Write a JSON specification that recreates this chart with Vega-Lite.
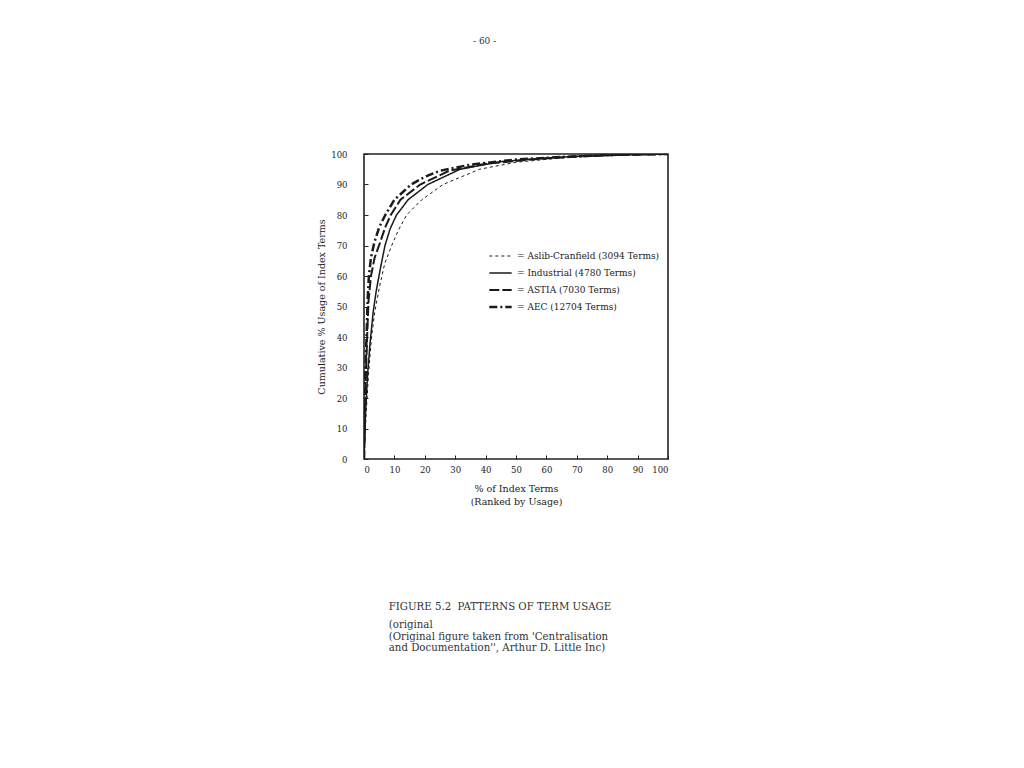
{
  "$schema": "https://vega.github.io/schema/vega-lite/v6.json",
  "padding": {"left": 315, "top": 37, "right": 5, "bottom": 5},
  "background": "white",
  "title": {"text": "- 60 -", "anchor": "start", "dx": 157, "offset": 103, "font": "DejaVu Serif", "fontSize": 9, "fontWeight": "normal", "color": "#333"},
  "config": {
    "font": "DejaVu Serif",
    "view": {"stroke": "#222", "strokeWidth": 1.6},
    "axis": {"grid": false, "domain": false, "labelFont": "DejaVu Serif", "titleFont": "DejaVu Serif", "labelColor": "#222", "titleColor": "#222", "tickColor": "#222", "labelFontSize": 8.5, "titleFontSize": 9.5, "titleFontWeight": "normal"}
  },
  "vconcat": [
    {
      "width": 304,
      "height": 305,
      "title": {
        "text": "FIGURE 5.2\u00a0\u00a0PATTERNS OF TERM USAGE",
        "subtitle": ["\u00a0\u00a0(original", "\u00a0\u00a0(Original figure taken from 'Centralisation", "\u00a0\u00a0\u00a0\u00a0and Documentation'', Arthur D. Little Inc)"],
        "orient": "bottom",
        "anchor": "start",
        "dx": 72,
        "offset": 96,
        "font": "DejaVu Serif",
        "fontSize": 10.2,
        "fontWeight": "normal",
        "color": "#333",
        "subtitleFont": "DejaVu Serif",
        "subtitleFontSize": 10.2,
        "subtitleColor": "#333",
        "subtitlePadding": 8,
        "subtitleLineHeight": 11.5
      },
      "data": {"values": [
        {"series": "Aslib-Cranfield", "x": 0, "y": 0},
        {"series": "Aslib-Cranfield", "x": 0.7, "y": 15},
        {"series": "Aslib-Cranfield", "x": 1.5, "y": 28},
        {"series": "Aslib-Cranfield", "x": 2.5, "y": 40},
        {"series": "Aslib-Cranfield", "x": 3.5, "y": 48},
        {"series": "Aslib-Cranfield", "x": 5, "y": 56},
        {"series": "Aslib-Cranfield", "x": 6.8, "y": 64},
        {"series": "Aslib-Cranfield", "x": 9.1, "y": 70},
        {"series": "Aslib-Cranfield", "x": 11.3, "y": 75},
        {"series": "Aslib-Cranfield", "x": 14, "y": 80},
        {"series": "Aslib-Cranfield", "x": 19, "y": 85},
        {"series": "Aslib-Cranfield", "x": 26, "y": 90},
        {"series": "Aslib-Cranfield", "x": 38, "y": 95},
        {"series": "Aslib-Cranfield", "x": 50, "y": 97.3},
        {"series": "Aslib-Cranfield", "x": 65, "y": 98.7},
        {"series": "Aslib-Cranfield", "x": 80, "y": 99.5},
        {"series": "Aslib-Cranfield", "x": 100, "y": 100},
        {"series": "Industrial", "x": 0, "y": 0},
        {"series": "Industrial", "x": 0.5, "y": 15},
        {"series": "Industrial", "x": 1.2, "y": 28},
        {"series": "Industrial", "x": 2, "y": 38},
        {"series": "Industrial", "x": 3, "y": 48},
        {"series": "Industrial", "x": 4, "y": 55},
        {"series": "Industrial", "x": 5.3, "y": 62},
        {"series": "Industrial", "x": 6.9, "y": 70},
        {"series": "Industrial", "x": 8.6, "y": 75.5},
        {"series": "Industrial", "x": 10.7, "y": 80},
        {"series": "Industrial", "x": 14.5, "y": 85},
        {"series": "Industrial", "x": 21, "y": 90},
        {"series": "Industrial", "x": 31.6, "y": 95},
        {"series": "Industrial", "x": 45, "y": 97.5},
        {"series": "Industrial", "x": 60, "y": 98.7},
        {"series": "Industrial", "x": 75, "y": 99.5},
        {"series": "Industrial", "x": 100, "y": 100},
        {"series": "ASTIA", "x": 0, "y": 0},
        {"series": "ASTIA", "x": 0.3, "y": 15},
        {"series": "ASTIA", "x": 0.7, "y": 30},
        {"series": "ASTIA", "x": 1.1, "y": 42},
        {"series": "ASTIA", "x": 1.5, "y": 52},
        {"series": "ASTIA", "x": 2.3, "y": 60},
        {"series": "ASTIA", "x": 3.5, "y": 66},
        {"series": "ASTIA", "x": 5.3, "y": 71},
        {"series": "ASTIA", "x": 7, "y": 76},
        {"series": "ASTIA", "x": 8.8, "y": 80},
        {"series": "ASTIA", "x": 12, "y": 85},
        {"series": "ASTIA", "x": 18.5, "y": 90},
        {"series": "ASTIA", "x": 28, "y": 94.5},
        {"series": "ASTIA", "x": 40, "y": 96.8},
        {"series": "ASTIA", "x": 55, "y": 98.2},
        {"series": "ASTIA", "x": 70, "y": 99.2},
        {"series": "ASTIA", "x": 85, "y": 99.7},
        {"series": "ASTIA", "x": 100, "y": 100},
        {"series": "AEC", "x": 0, "y": 0},
        {"series": "AEC", "x": 0.2, "y": 15},
        {"series": "AEC", "x": 0.5, "y": 30},
        {"series": "AEC", "x": 0.9, "y": 42},
        {"series": "AEC", "x": 1.2, "y": 52},
        {"series": "AEC", "x": 1.6, "y": 60},
        {"series": "AEC", "x": 2.3, "y": 66},
        {"series": "AEC", "x": 3.4, "y": 71},
        {"series": "AEC", "x": 5, "y": 76},
        {"series": "AEC", "x": 7, "y": 80},
        {"series": "AEC", "x": 10, "y": 85},
        {"series": "AEC", "x": 15.5, "y": 90},
        {"series": "AEC", "x": 20, "y": 92.5},
        {"series": "AEC", "x": 25, "y": 94.5},
        {"series": "AEC", "x": 35, "y": 96.5},
        {"series": "AEC", "x": 50, "y": 98.2},
        {"series": "AEC", "x": 70, "y": 99.3},
        {"series": "AEC", "x": 85, "y": 99.8},
        {"series": "AEC", "x": 100, "y": 100}
      ]},
      "mark": {"type": "line", "color": "#1a1a1a", "clip": true},
      "encoding": {
        "x": {"field": "x", "type": "quantitative", "scale": {"domain": [0, 100], "nice": false},
              "axis": {"values": [0,10,20,30,40,50,60,70,80,90,100], "tickSize": -4, "labelPadding": 10,
                       "title": ["% of Index Terms", "(Ranked by Usage)"], "titlePadding": 10, "titleLineHeight": 13}},
        "y": {"field": "y", "type": "quantitative", "scale": {"domain": [0, 100], "nice": false},
              "axis": {"values": [0,10,20,30,40,50,60,70,80,90,100], "tickSize": -4, "labelPadding": 21,
                       "title": "Cumulative % Usage of Index Terms", "titlePadding": 4}},
        "strokeDash": {"field": "series", "type": "nominal",
                       "scale": {"domain": ["Aslib-Cranfield", "Industrial", "ASTIA", "AEC"],
                                 "range": [[3, 3], [1, 0], [10, 3], [8, 3, 2, 3]]},
                       "legend": {"title": null, "orient": "none", "legendX": 124, "legendY": 95,
                                  "symbolType": "stroke", "symbolSize": 500, "symbolStrokeWidth": 2,
                                  "symbolStrokeColor": "#1a1a1a", "clipHeight": 14, "rowPadding": 3,
                                  "labelFont": "DejaVu Serif", "labelFontSize": 9, "labelColor": "#222",
                                  "labelExpr": "datum.value == 'Aslib-Cranfield' ? '= Aslib-Cranfield (3094 Terms)' : datum.value == 'Industrial' ? '= Industrial (4780 Terms)' : datum.value == 'ASTIA' ? '= ASTIA (7030 Terms)' : '= AEC (12704 Terms)'"}},
        "strokeWidth": {"field": "series", "type": "nominal",
                        "scale": {"domain": ["Aslib-Cranfield", "Industrial", "ASTIA", "AEC"], "range": [1, 2.5, 2.5, 2.5]},
                        "legend": null}
      }
    }
  ]
}
